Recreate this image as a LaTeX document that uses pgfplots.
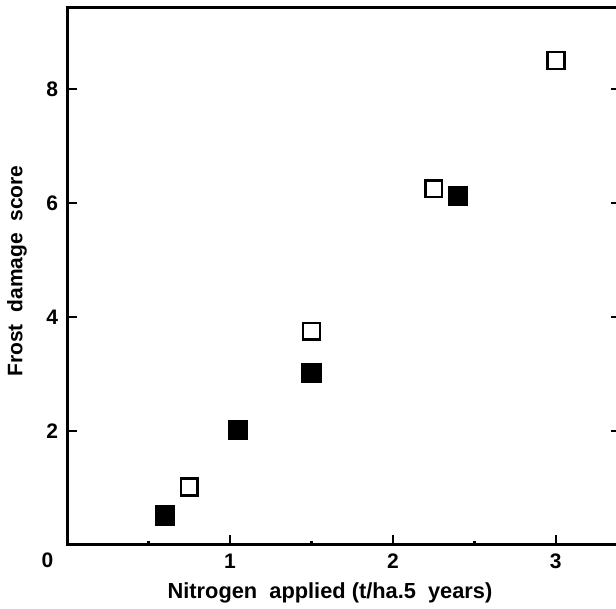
\documentclass[border=0pt]{standalone}
\usepackage{fontspec}
\setmainfont{Liberation Sans}
\usepackage{pgfplots}
\pgfplotsset{compat=1.18}

\begin{document}
\begin{tikzpicture}
\begin{axis}[
    at={(0,0)}, anchor=south west,
    scale only axis,
    width=277pt, height=268.5pt,
    xmin=0, xmax=3.4,
    ymin=0, ymax=9.42,
    axis line style={line width=1.5pt},
    xtick={1,2,3},
    minor xtick={0.5,1.5,2.5},
    ytick={2,4,6,8},
    xtick pos=bottom,
    ytick pos=both,
    tick align=inside,
    major tick length=5pt,
    minor tick length=2pt,
    major tick style={line width=1.3pt, black},
    minor tick style={line width=1.2pt, black},
    tick label style={font=\fontsize{10.5}{12}\selectfont\bfseries},
    /pgf/number format/assume math mode=true,
    xticklabel style={yshift=-1pt},
    yticklabel style={xshift=-1pt},
    clip=false,
]
\addplot[only marks, mark=square*, mark size=4.8pt, black] coordinates {
    (0.60,0.52) (1.05,2.02) (1.50,3.02) (2.40,6.13)
};
\addplot[only marks, mark=square, mark size=4.2pt, mark options={line width=1.3pt, fill=white}, black] coordinates {
    (0.75,1.02) (1.50,3.75) (2.25,6.25) (3.00,8.50)
};
\node[font=\fontsize{10.5}{12}\selectfont\bfseries] at (axis cs:-0.12,-0.27) {0};
\end{axis}
\node[font=\fontsize{10.9}{12}\selectfont\bfseries] at (131.5pt,-24pt) {Nitrogen\ \ applied (t/ha.5\ \ years)};
\node[font=\fontsize{10.5}{12}\selectfont\bfseries, rotate=90] at (-25pt,137pt) {Frost\ \ damage\ \ score};
\pgfresetboundingbox
\path (-33.5pt,-32pt) rectangle (274.5pt,272.5pt);
\end{tikzpicture}
\end{document}
